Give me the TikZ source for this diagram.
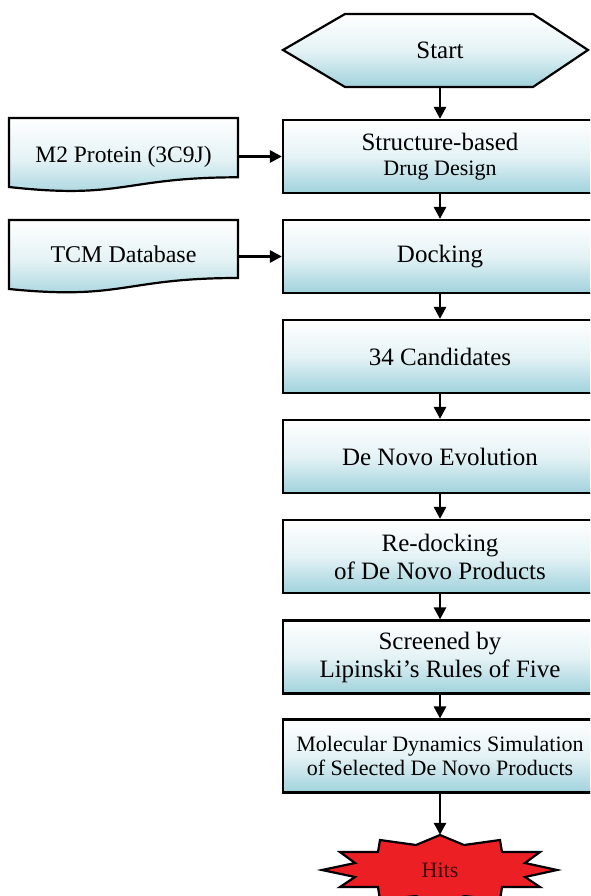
\documentclass[tikz,border=0pt]{standalone}
\usepackage{fontspec}
\setmainfont{Liberation Serif}
\usetikzlibrary{arrows.meta}
\definecolor{bluefill}{RGB}{160,210,220}
\definecolor{hitred}{RGB}{236,32,36}
\definecolor{hittext}{RGB}{60,8,8}
\tikzset{
  x=1pt, y=-1pt,
  boxshade/.style={top color=white, bottom color=bluefill, middle color=white!72!bluefill},
  stepbox/.style={draw=black, line width=2.2pt, boxshade, minimum width=314pt, minimum height=73pt,
     inner sep=0pt, align=center, font=\fontsize{25}{28}\selectfont},
  flowarrow/.style={line width=2.8pt, -{Triangle[length=12pt,width=12pt]}},
  outline/.style={draw=black, line width=2.2pt, line join=miter},
}
\begin{document}
\begin{tikzpicture}
\useasboundingbox (0,0) rectangle (590,896);
\clip (0,0) rectangle (590,896);
\fill[white] (0,0) rectangle (590,896);

% Start hexagon
\path[outline, boxshade] (283,50) -- (345,14) -- (533,14) -- (588,50) -- (533,87) -- (345,87) -- cycle;
\node[inner sep=0pt, minimum width=200pt, minimum height=73pt, font=\fontsize{25}{28}\selectfont] (start) at (440,50.5) {Start};

% main boxes
\node[stepbox] (b1) at (440,156.5) {Structure-based\\[-3pt]{\fontsize{22}{25}\selectfont Drug Design}};
\node[stepbox] (b2) at (440,256.5) {Docking};
\node[stepbox] (b3) at (440,356.5) {34 Candidates};
\node[stepbox] (b4) at (440,456.5) {De Novo Evolution};
\node[stepbox] (b5) at (440,556.5) {Re-docking\\of De Novo Products};
\node[stepbox] (b6) at (440,657) {Screened by\\Lipinski’s Rules of Five};
\node[stepbox, font=\fontsize{22}{24.5}\selectfont] (b7) at (440,756) {Molecular Dynamics Simulation\\of Selected De Novo Products};

% Hits explosion
\path[draw=black, line width=2.2pt, fill=hitred, line join=miter, shift={(440,870)}]
  (0,-35) -- (24,-25) -- (60,-30) -- (62,-18) -- (100,-18) -- (85,-7) -- (117,0) -- (85,7)
  -- (100,17) -- (62,17) -- (60,30) -- (24,26) -- (0,36) -- (-24,26) -- (-60,30) -- (-62,17)
  -- (-100,17) -- (-85,7) -- (-118,0) -- (-85,-7) -- (-100,-18) -- (-62,-18) -- (-60,-30)
  -- (-24,-25) -- cycle;
\node[inner sep=0pt, minimum width=120pt, minimum height=70pt, text=hittext, font=\fontsize{22}{24}\selectfont] (hits) at (440,870) {Hits};

% document shapes
\path[outline, boxshade] (9,118) -- (238,118) -- (238,177.3)
   .. controls (123.5,177.3) and (123.5,199.8) .. (9,187) -- cycle;
\node[inner sep=0pt, minimum width=229pt, minimum height=77pt, font=\fontsize{23.5}{26}\selectfont] (m2) at (123.5,156.5) {\raisebox{4pt}{M2 Protein (3C9J)}};

\path[outline, boxshade] (9,220) -- (238,220) -- (238,278)
   .. controls (123.5,278) and (123.5,300.5) .. (9,289) -- cycle;
\node[inner sep=0pt, minimum width=229pt, minimum height=73pt, font=\fontsize{24}{26}\selectfont] (tcm) at (123.5,256.5) {\raisebox{4pt}{TCM Database}};

% connectors
\draw[flowarrow] (start.south) -- (b1.north);
\draw[flowarrow] (b1.south) -- (b2.north);
\draw[flowarrow] (b2.south) -- (b3.north);
\draw[flowarrow] (b3.south) -- (b4.north);
\draw[flowarrow] (b4.south) -- (b5.north);
\draw[flowarrow] (b5.south) -- (b6.north);
\draw[flowarrow] (b6.south) -- (b7.north);
\draw[flowarrow] (b7.south) -- (hits.north);
\draw[flowarrow] (m2.east) -- (b1.west);
\draw[flowarrow] (tcm.east) -- (b2.west);
\end{tikzpicture}
\end{document}
